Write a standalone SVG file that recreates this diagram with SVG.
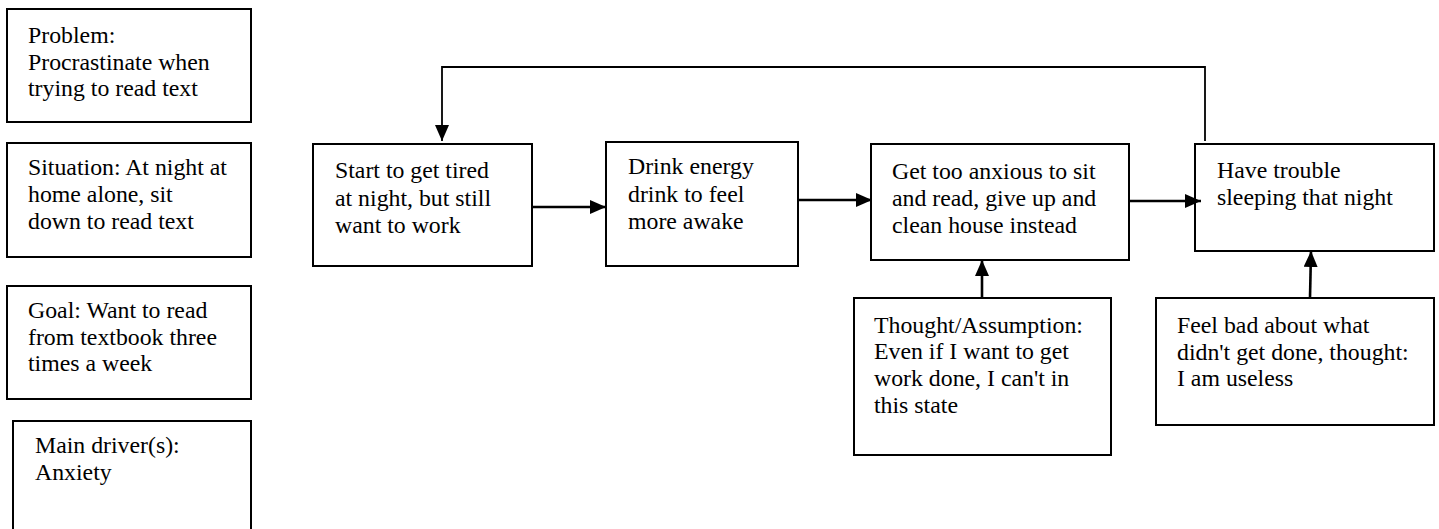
<svg xmlns="http://www.w3.org/2000/svg" width="1439" height="529" viewBox="0 0 1439 529">
  <style>
    .box { fill: #fff; stroke: #000; stroke-width: 2; }
    .lbl { font-family: "Liberation Serif", "Times New Roman", serif; font-size: 23.8px; fill: #000; }
    .link { fill: none; stroke: #000; stroke-width: 2.6; }
    .loop { fill: none; stroke: #000; stroke-width: 1.8; }
  </style>
  <defs>
    <marker id="arrow" markerUnits="userSpaceOnUse" markerWidth="16" markerHeight="14" refX="16" refY="7" orient="auto">
      <path d="M0,0 L16,7 L0,14 Z" fill="#000"/>
    </marker>
  </defs>

  <rect width="1439" height="529" fill="#fff"/>

  <!-- summary boxes on the left -->
  <g id="problem">
    <rect class="box" x="7" y="9" width="244" height="113"/>
    <text class="lbl" x="28" y="43">Problem:</text>
    <text class="lbl" x="28" y="70">Procrastinate when</text>
    <text class="lbl" x="28" y="96">trying to read text</text>
  </g>
  <g id="situation">
    <rect class="box" x="7" y="143" width="244" height="114"/>
    <text class="lbl" x="28" y="175">Situation: At night at</text>
    <text class="lbl" x="28" y="202">home alone, sit</text>
    <text class="lbl" x="28" y="229">down to read text</text>
  </g>
  <g id="goal">
    <rect class="box" x="7" y="286" width="244" height="113"/>
    <text class="lbl" x="28" y="318">Goal: Want to read</text>
    <text class="lbl" x="28" y="345">from textbook three</text>
    <text class="lbl" x="28" y="371">times a week</text>
  </g>
  <g id="driver">
    <rect class="box" x="13" y="421" width="238" height="130"/>
    <text class="lbl" x="35" y="453">Main driver(s):</text>
    <text class="lbl" x="35" y="480">Anxiety</text>
  </g>

  <!-- cycle -->
  <g id="tired">
    <rect class="box" x="313" y="144" width="219" height="122"/>
    <text class="lbl" x="335" y="178">Start to get tired</text>
    <text class="lbl" x="335" y="206">at night, but still</text>
    <text class="lbl" x="335" y="233">want to work</text>
  </g>
  <g id="energy">
    <rect class="box" x="606" y="142" width="192" height="124"/>
    <text class="lbl" x="628" y="174">Drink energy</text>
    <text class="lbl" x="628" y="202">drink to feel</text>
    <text class="lbl" x="628" y="229">more awake</text>
  </g>
  <g id="anxious">
    <rect class="box" x="871" y="144" width="258" height="116"/>
    <text class="lbl" x="892" y="179">Get too anxious to sit</text>
    <text class="lbl" x="892" y="206">and read, give up and</text>
    <text class="lbl" x="892" y="233">clean house instead</text>
  </g>
  <g id="sleep">
    <rect class="box" x="1195" y="144" width="239" height="107"/>
    <text class="lbl" x="1217" y="178">Have trouble</text>
    <text class="lbl" x="1217" y="205">sleeping that night</text>
  </g>
  <g id="thought">
    <rect class="box" x="854" y="298" width="257" height="157"/>
    <text class="lbl" x="874" y="333">Thought/Assumption:</text>
    <text class="lbl" x="874" y="359">Even if I want to get</text>
    <text class="lbl" x="874" y="386">work done, I can't in</text>
    <text class="lbl" x="874" y="413">this state</text>
  </g>
  <g id="feelbad">
    <rect class="box" x="1156" y="298" width="278" height="127"/>
    <text class="lbl" x="1177" y="333">Feel bad about what</text>
    <text class="lbl" x="1177" y="360">didn't get done, thought:</text>
    <text class="lbl" x="1177" y="386">I am useless</text>
  </g>

  <!-- connectors -->
  <g id="connectors">
    <line class="link" x1="532" y1="207" x2="606" y2="207" marker-end="url(#arrow)"/>
    <line class="link" x1="798" y1="200" x2="872" y2="200" marker-end="url(#arrow)"/>
    <line class="link" x1="1129" y1="201" x2="1201" y2="201" marker-end="url(#arrow)"/>
    <line class="link" x1="982" y1="298" x2="982" y2="260" marker-end="url(#arrow)"/>
    <line class="link" x1="1310" y1="298" x2="1311" y2="251" marker-end="url(#arrow)"/>
    <polyline class="loop" points="1205,141 1205,67 442,67 442,141" marker-end="url(#arrow)"/>
  </g>
</svg>
